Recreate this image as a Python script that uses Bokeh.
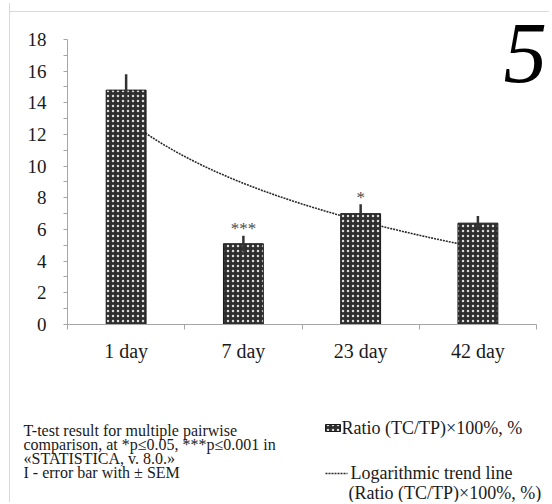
import numpy as np
from bokeh.plotting import figure
from bokeh.models import Range1d, FixedTicker, Label, LinearAxis, ColumnDataSource
from bokeh.core.properties import value
from bokeh.embed import file_html
from bokeh.resources import INLINE

# ---- data ----
categories = ["1 day", "7 day", "23 day", "42 day"]
ratio = [14.8, 5.1, 7.0, 6.4]
sem = [1.0, 0.5, 0.6, 0.45]
significance = ["", "***", "*", ""]
y_ticks = [0, 2, 4, 6, 8, 10, 12, 14, 16, 18]
notes = ["T-test result for multiple pairwise",
         "comparison, at *p\u22640.05, ***p\u22640.001 in",
         "\u00abSTATISTICA, v. 8.0.\u00bb",
         "I - error bar with \u00b1 SEM"]
legend_bar = "Ratio (TC/TP)\u00d7100%, %"
legend_trend = ["Logarithmic trend line", "(Ratio (TC/TP)\u00d7100%, %)"]
panel_number = "5"

SERIF = "Liberation Serif"
TXT = "#1a1a1a"
AXC = "#a6a6a6"
BORDER = "1px solid #d9d9d9"
BAR_STYLE = dict(fill_color="#2e2e2e", line_color="#1a1a1a", line_width=1,
                 hatch_pattern="dot", hatch_color="#dcdcdc", hatch_scale=5, hatch_weight=1.7)
TREND_STYLE = dict(line_color="#2a2a2a", line_width=1.6, line_dash="2 1")

xs = list(range(1, len(categories) + 1))
src = ColumnDataSource(dict(
    x=xs, top=ratio,
    lo=[v - s for v, s in zip(ratio, sem)],
    hi=[v + s for v, s in zip(ratio, sem)],
    star_y=[v + s + 0.45 for v, s in zip(ratio, sem)],
    sig=significance))

# logarithmic trend line fitted to the bar values (as in the original chart)
a, b = np.polyfit(np.log(xs), ratio, 1)
tx = np.linspace(1, len(xs), 120)
ty = a * np.log(tx) + b

# ---------------- chart ----------------
p = figure(width=540, height=379, x_range=Range1d(0.5, 4.585), y_range=Range1d(0, 20.27),
           output_backend="svg", toolbar_location=None,
           min_border_left=57, min_border_right=4, min_border_top=0, min_border_bottom=58,
           margin=(3, 0, 0, 9),
           styles={"border-left": BORDER,
                   "background": "linear-gradient(#d9d9d9, #d9d9d9) 0 8px / 100% 1px no-repeat, #ffffff"})
p.border_fill_color = None
p.background_fill_color = None
p.outline_line_color = None
p.xgrid.visible = False
p.ygrid.visible = False
p.xaxis.visible = False
p.yaxis.visible = False

yax = LinearAxis(ticker=FixedTicker(ticks=y_ticks, minor_ticks=[t + 1 for t in y_ticks[:-1]]),
                 bounds=(y_ticks[0], y_ticks[-1]))
yax.axis_line_color = AXC
yax.major_tick_line_color = AXC
yax.minor_tick_line_color = AXC
yax.major_tick_in = 0
yax.major_tick_out = 4
yax.minor_tick_in = 0
yax.minor_tick_out = 4
yax.major_label_text_font = SERIF
yax.major_label_text_font_size = "19px"
yax.major_label_text_color = TXT
yax.major_label_standoff = 17
p.add_layout(yax, "left")

xax = LinearAxis(ticker=FixedTicker(ticks=xs, minor_ticks=[x - 0.5 for x in xs] + [xs[-1] + 0.5]),
                 bounds=(xs[0] - 0.5, xs[-1] + 0.5))
xax.major_label_overrides = {x: c for x, c in zip(xs, categories)}
xax.axis_line_color = AXC
xax.major_tick_line_color = None
xax.minor_tick_line_color = AXC
xax.minor_tick_in = 0
xax.minor_tick_out = 5
xax.major_label_text_font = SERIF
xax.major_label_text_font_size = "20px"
xax.major_label_text_color = TXT
xax.major_label_standoff = 9
p.add_layout(xax, "below")

p.line(tx, ty, **TREND_STYLE)
p.vbar(x="x", top="top", width=0.34, bottom=0, source=src, **BAR_STYLE)
p.segment(x0="x", x1="x", y0="lo", y1="hi", source=src, line_color="#333333", line_width=2.5)
p.text(x="x", y="star_y", text="sig", source=src, text_align="center",
       text_baseline="middle", text_font=value(SERIF), text_font_size="17px",
       text_color="#4d4d4d")

p.add_layout(Label(x=4.59, y=17.12, text=panel_number,
                   text_align="right", text_baseline="middle", text_font=SERIF,
                   text_font_style="italic", text_font_size="87px", text_color="#000000"))

# ---------------- notes & legend ----------------
q = figure(width=540, height=120, x_range=Range1d(0, 540), y_range=Range1d(120, 0),
           output_backend="svg", toolbar_location=None,
           min_border_left=0, min_border_right=0, min_border_top=0, min_border_bottom=0,
           margin=(0, 0, 0, 9), styles={"border-left": BORDER})
q.outline_line_color = None
q.axis.visible = False
q.grid.visible = False

NOTE_KW = dict(text_align="left", text_baseline="middle", text_font=value(SERIF),
               text_font_size="16px", text_color=TXT)
LEG_KW = dict(NOTE_KW, text_font_size="18px")

q.text(x=[13] * len(notes), y=[48, 62, 76, 90], text=notes, **NOTE_KW)

# legend entry 1: patterned swatch + label
q.quad(left=[315], right=[330], top=[42], bottom=[49], **BAR_STYLE)
q.text(x=[331], y=[45.5], text=[legend_bar], **LEG_KW)
# legend entry 2: dotted line + two-line label
q.segment(x0=[315], x1=[337], y0=[91], y1=[91], **TREND_STYLE)
q.text(x=[340, 338], y=[90.5, 110.5], text=legend_trend, **LEG_KW)

open("out.html", "w").write(file_html([p, q], INLINE))
